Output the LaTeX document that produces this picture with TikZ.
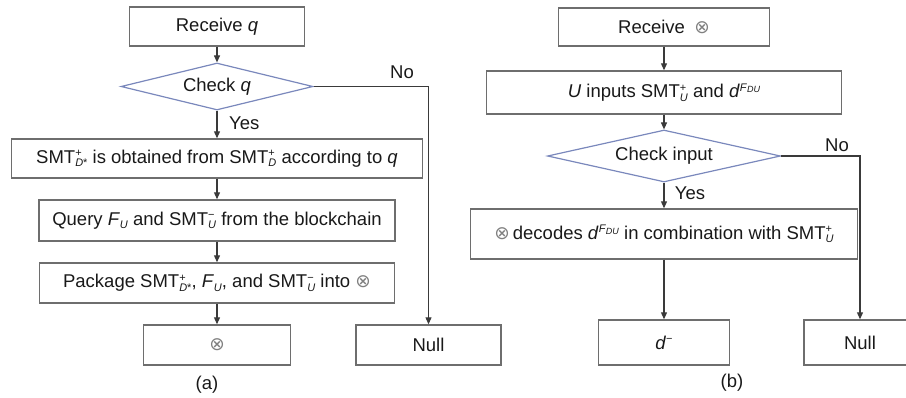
\documentclass[tikz,border=0pt]{standalone}
\usepackage{fontspec}
\setmainfont{Liberation Sans}
\newfontfamily\symf{DejaVu Sans}
\usetikzlibrary{shapes.geometric,arrows.meta}
\definecolor{boxgray}{HTML}{6E6E6E}
\definecolor{linegray}{HTML}{3A3A3A}
\definecolor{diablue}{HTML}{7A88BC}
\newcommand\SupSub[2]{{\fontsize{11}{11}\selectfont\setbox0\hbox{\raisebox{6.5pt}{#1}}\setbox2\hbox{\raisebox{-3.5pt}{#2}}\ifdim\wd0>\wd2 \rlap{\box2}\box0\else\rlap{\box0}\box2\fi}}
\newcommand\SubOnly[1]{{\fontsize{11}{11}\selectfont\raisebox{-3.5pt}{#1}}}
\newcommand\Otimes{{\symf\color{gray}⊗}}
\newcommand\dF{\textit{d}{\fontsize{11}{11}\selectfont\raisebox{6.5pt}{\textit{F}\fontsize{9}{9}\selectfont\raisebox{-1.5pt}{\textit{DU}}}}}
\tikzset{
  box/.style={draw=boxgray, line width=1.4pt, rectangle, inner sep=0pt, align=center,
    font=\fontsize{18.5}{20}\selectfont, text=black!90},
  dia/.style={draw=diablue, line width=1.2pt, diamond, inner sep=0pt, align=center,
    font=\fontsize{18.5}{20}\selectfont, text=black!90},
  arr/.style={draw=linegray, line width=1.1pt, -{Triangle[length=7pt,width=6pt]}},
  lbl/.style={font=\fontsize{18.5}{20}\selectfont, text=black!90, inner sep=0pt}
}
\begin{document}
\begin{tikzpicture}[x=1pt,y=-1pt]
\useasboundingbox (0,0) rectangle (906,397);
\clip (0,0) rectangle (906,397);
% ---------- (a) ----------
\node[box, minimum width=175pt, minimum height=39pt] (ra) at (217,26.5) {Receive \textit{q}};
\node[dia, aspect=4, minimum width=192pt, minimum height=47pt] (ca) at (217,86.5) {Check \textit{q}};
\node[box, minimum width=411pt, minimum height=39pt] (sa) at (217,158.5)
  {SMT\SupSub{+}{\textit{D}*} is obtained from SMT\SupSub{+}{\textit{D}} according to \textit{q}};
\node[box, minimum width=356pt, minimum height=41pt] (qa) at (217,220.5)
  {Query \textit{F}\SubOnly{\textit{U}} and SMT\SupSub{−}{\textit{U}} from the blockchain};
\node[box, minimum width=355pt, minimum height=40pt] (pa) at (217,283)
  {Package SMT\SupSub{+}{\textit{D}*}, \textit{F}\SubOnly{\textit{U}}, and SMT\SupSub{−}{\textit{U}} into \Otimes};
\node[box, minimum width=147pt, minimum height=40pt] (xa) at (217,345) {\Otimes};
\node[box, minimum width=145pt, minimum height=40pt] (na) at (428.5,345) {Null};
\draw[arr] (ra) -- (ca);
\draw[arr] (ca) -- (sa);
\draw[arr] (sa) -- (qa);
\draw[arr] (qa) -- (pa);
\draw[arr] (pa) -- (xa);
\draw[arr] (ca.east) -| (na.north);
\node[lbl, anchor=west] (yesa) at (229,123) {Yes};
\node[lbl] (noa) at (402,72) {No};
\node[lbl] (capa) at (207,385) {(a)};
% ---------- (b) ----------
\node[box, minimum width=211pt, minimum height=38pt] (rb) at (664,27) {Receive\enspace\Otimes};
\node[box, minimum width=355pt, minimum height=43pt] (ub) at (664,92.5)
  {\textit{U} inputs SMT\SupSub{+}{\textit{U}} and \dF};
\node[dia, aspect=4.5, minimum width=233pt, minimum height=52pt] (cb) at (664,156) {Check input};
\node[box, minimum width=387pt, minimum height=50pt] (db) at (664,234)
  {\Otimes\,decodes \dF\ in combination with SMT\SupSub{+}{\textit{U}}};
\node[box, minimum width=131pt, minimum height=45pt] (ob) at (664,342.5)
  {\textit{d}{\fontsize{11}{11}\selectfont\raisebox{6.5pt}{−}}};
\node[box, minimum width=112pt, minimum height=45pt] (nb) at (860,342.5) {Null};
\draw[arr] (rb) -- (ub);
\draw[arr] (ub) -- (cb);
\draw[arr] (cb) -- (db);
\draw[arr] (db) -- (ob);
\draw[arr] (cb.east) -| (nb.north);
\node[lbl] (yesb) at (690,193) {Yes};
\node[lbl] (nob) at (837,145) {No};
\node[lbl] (capb) at (732,383) {(b)};
\end{tikzpicture}
\end{document}
